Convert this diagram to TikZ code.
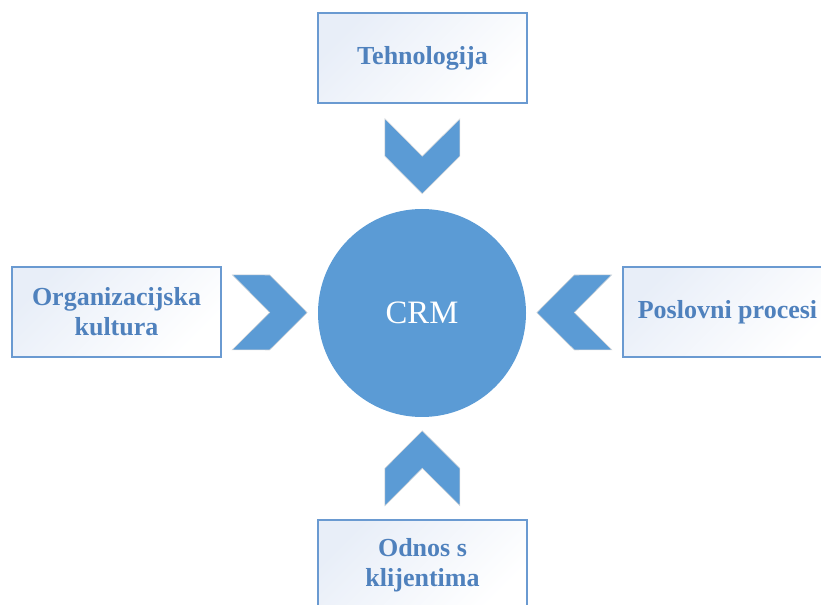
\documentclass[tikz,border=0pt]{standalone}
\usepackage{fontspec}
\setmainfont{Liberation Serif}
\definecolor{crmblue}{HTML}{5B9BD5}
\definecolor{labelblue}{HTML}{4F81BD}
\definecolor{boxline}{HTML}{6A9AD1}
\definecolor{boxtint}{HTML}{E8EEF8}
\begin{document}
\begin{tikzpicture}[x=0.75pt,y=-0.75pt]
        \tikzstyle{factor} = [rectangle, draw=boxline, line width=1.1pt, top color=boxtint, bottom color=white, shading angle=45, text=labelblue, text centered, align=center, font=\fontsize{19.5}{22.5}\selectfont\bfseries, minimum width=156.75pt, minimum height=67.5pt]
        \tikzstyle{core} = [circle, fill=crmblue, text=white, font=\fontsize{24.5}{28}\selectfont, minimum size=156pt]
        \tikzset{chevron/.pic={\filldraw[fill=crmblue, draw=gray!30, line width=0.4pt] (-37.5,-37.5) -- (0,0) -- (-37.5,37.5) -- (0,37.5) -- (37.5,0) -- (0,-37.5) -- cycle;}}
        \clip (0,0) rectangle (821,605);
        \node[core] (crm) at (422,313) {CRM};
        \node[factor] (tech) at (422.5,58) {Tehnologija};
        \node[factor] (org) at (116.5,312) {Organizacijska\\kultura};
        \node[factor] (proc) at (727.5,312) {Poslovni procesi};
        \node[factor] (odnos) at (422.5,565) {Odnos s\\klijentima};
        \path (tech) -- (crm) pic[midway, sloped, allow upside down] {chevron};
        \path (org) -- (crm) pic[midway, sloped, allow upside down] {chevron};
        \path (proc) -- (crm) pic[midway, sloped, allow upside down] {chevron};
        \path (odnos) -- (crm) pic[midway, sloped, allow upside down] {chevron};
    \end{tikzpicture}
\end{document}
